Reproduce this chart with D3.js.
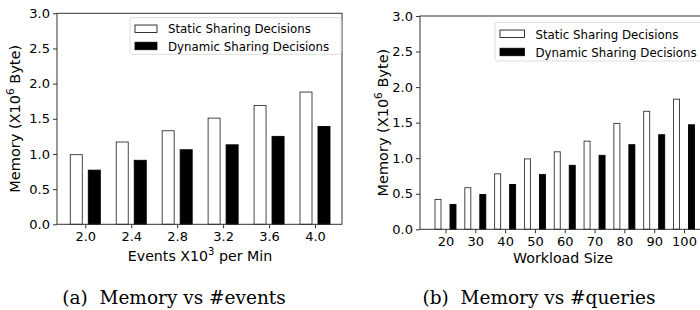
<!DOCTYPE html>
<html>
<head>
<meta charset="utf-8">
<script src="https://cdn.jsdelivr.net/npm/d3@7"></script>
<style>
  body { margin: 0; background: #fff; }
  text { font-family: "DejaVu Sans", sans-serif; fill: #000; }
  .cap { font-family: "DejaVu Serif", serif; }
</style>
</head>
<body>
<svg id="svg" width="700" height="310"></svg>
<script>
const svg = d3.select('#svg')

// ---- data ----
const eventRates = ['2.0', '2.4', '2.8', '3.2', '3.6', '4.0']
const staticByEvents = [0.99, 1.17, 1.33, 1.51, 1.69, 1.88]
const dynamicByEvents = [0.77, 0.91, 1.06, 1.13, 1.25, 1.39]

const workloads = ['20', '30', '40', '50', '60', '70', '80', '90', '100']
const staticByQueries = [0.42, 0.585, 0.78, 0.99, 1.09, 1.24, 1.49, 1.66, 1.83]
const dynamicByQueries = [0.35, 0.49, 0.63, 0.77, 0.90, 1.04, 1.19, 1.33, 1.47]

const yTicks = [0, 0.5, 1.0, 1.5, 2.0, 2.5, 3.0]
const seriesNames = ['Static Sharing Decisions', 'Dynamic Sharing Decisions']

//------ one panel ------
const drawPanel = (opt) => {
    const g = svg.append('g')

    const y = d3.scaleLinear().domain([0, 3]).range([opt.bottom, opt.top])
    const x = d3.scalePoint().domain(opt.cats).range([opt.first, opt.last])

    // bars
    const groups = g.selectAll('.grp')
        .data(opt.cats)
        .enter().append('g')

    groups.append('rect')
        .attr('x', d => x(d) - opt.off - opt.bw / 2)
        .attr('y', (d, i) => y(opt.s1[i]))
        .attr('width', opt.bw)
        .attr('height', (d, i) => y(0) - y(opt.s1[i]))
        .attr('fill', '#fff')
        .attr('stroke', '#333')
        .attr('stroke-width', 0.9)

    groups.append('rect')
        .attr('x', d => x(d) + opt.off - opt.bw / 2)
        .attr('y', (d, i) => y(opt.s2[i]))
        .attr('width', opt.bw)
        .attr('height', (d, i) => y(0) - y(opt.s2[i]))
        .attr('fill', '#000')
        .attr('stroke', '#000')
        .attr('stroke-width', 0.9)

    // frame
    g.append('rect')
        .attr('x', opt.left).attr('y', opt.top)
        .attr('width', opt.right - opt.left).attr('height', opt.bottom - opt.top)
        .attr('fill', 'none').attr('stroke', '#333').attr('stroke-width', 1)

    // axes
    const yAxis = g.append('g')
        .attr('transform', `translate(${opt.left},0)`)
        .call(d3.axisLeft(y).tickValues(yTicks).tickFormat(d3.format('.1f')).tickSize(4).tickPadding(3))
    const xAxis = g.append('g')
        .attr('transform', `translate(0,${opt.bottom})`)
        .call(d3.axisBottom(x).tickSize(4).tickPadding(3))
    ;[yAxis, xAxis].forEach(a => {
        a.select('.domain').remove()
        a.selectAll('text').style('font-size', '13px').attr('fill', '#000')
        a.selectAll('line').attr('stroke', '#333')
    })

    // y label
    const yl = g.append('text')
        .attr('transform', `translate(${opt.ylx},${(opt.top + opt.bottom) / 2}) rotate(-90)`)
        .attr('text-anchor', 'middle')
        .style('font-size', '14.5px')
    yl.append('tspan').text('Memory (X10')
    yl.append('tspan').text('6').attr('dy', -6).style('font-size', '10.5px')
    yl.append('tspan').text(' Byte)').attr('dy', 6)

    // x label
    const xl = g.append('text')
        .attr('x', opt.xlx).attr('y', opt.xly)
        .attr('text-anchor', 'middle')
        .style('font-size', '14.2px')
    opt.xlabel.forEach(p => {
        const t = xl.append('tspan').text(p.t)
        if (p.sup) t.attr('dy', -6).style('font-size', '10px')
        if (p.after) t.attr('dy', 6)
    })

    // legend
    const lg = g.append('g').attr('transform', `translate(${opt.lx},${opt.ly})`)
    lg.append('rect')
        .attr('width', opt.lw).attr('height', opt.lh).attr('rx', 2)
        .attr('fill', '#fff').attr('stroke', '#ddd').attr('stroke-width', 1)
    seriesNames.forEach((name, i) => {
        lg.append('rect')
            .attr('x', 5).attr('y', opt.lh * 0.2 + i * opt.lh * 0.47)
            .attr('width', opt.pw).attr('height', 7.5)
            .attr('fill', i === 0 ? '#fff' : '#000')
            .attr('stroke', '#000').attr('stroke-width', 0.8)
        lg.append('text')
            .attr('x', opt.pw + 16).attr('y', opt.lh * 0.43 + i * opt.lh * 0.47)
            .style('font-size', '11.8px')
            .text(name)
    })

    // caption
    svg.append('text').attr('class', 'cap')
        .attr('x', opt.capx).attr('y', 303.5)
        .attr('text-anchor', 'middle')
        .style('font-size', '18.5px')
        .style('white-space', 'pre')
        .text(opt.caption)
}

drawPanel({
    cats: eventRates, s1: staticByEvents, s2: dynamicByEvents,
    left: 57, right: 342, top: 13.3, bottom: 224.3,
    first: 85.3, last: 315, bw: 12, off: 9,
    ylx: 19.5, xlx: 200, xly: 260.5,
    xlabel: [{t: 'Events X10'}, {t: '3', sup: true}, {t: ' per Min', after: true}],
    lx: 130, ly: 17.7, lw: 211, lh: 36.6, pw: 22,
    capx: 174, caption: '(a)  Memory vs #events'
})

drawPanel({
    cats: workloads, s1: staticByQueries, s2: dynamicByQueries,
    left: 420, right: 712, top: 16, bottom: 229.3,
    first: 445.5, last: 684, bw: 6, off: 7.5,
    ylx: 388, xlx: 563, xly: 262.5,
    xlabel: [{t: 'Workload Size'}],
    lx: 495, ly: 22.3, lw: 215, lh: 38.7, pw: 24.5,
    capx: 539, caption: '(b)  Memory vs #queries'
})
</script>
</body>
</html>
